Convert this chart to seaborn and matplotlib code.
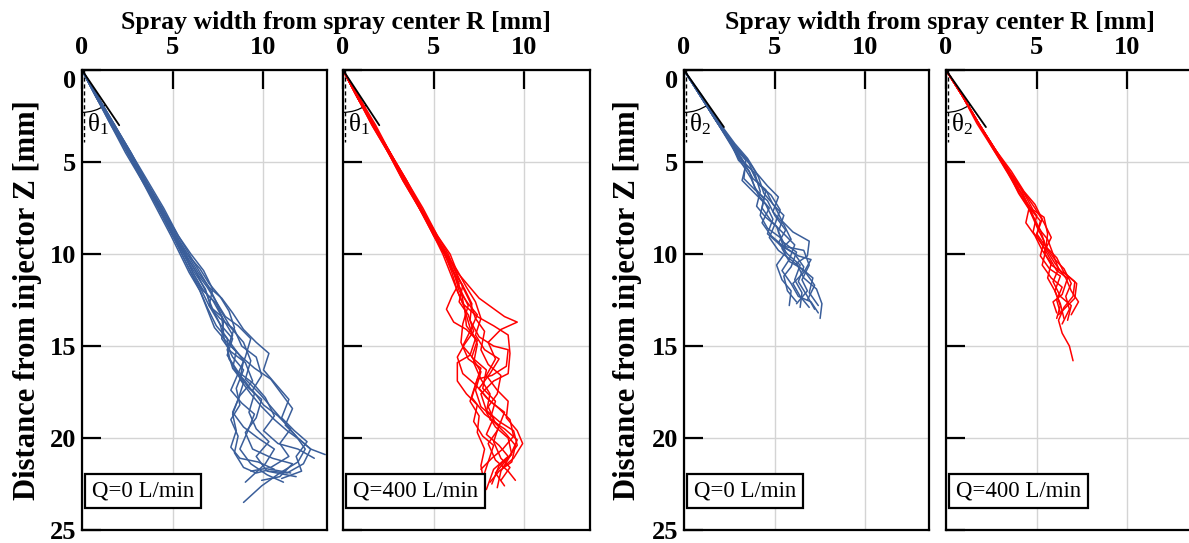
import numpy as np
import pandas as pd
import seaborn as sns
import matplotlib.pyplot as plt
from matplotlib.patches import Arc

# spray edge traces, (R, Z) in mm
theta1_q0 = [
    [(0,0),(0.9,1.5),(1.7,3),(2.6,4.5),(3.4,6),(4.3,7.5),(5.1,9),(5.7,10),(6.3,11),(6.8,12),(7.2,13),(7.6,13.8),(8.3,14.6),(8.0,15.5),(8.6,16.4),(9.4,17.0),(10.1,17.8),(10.6,18.8),(10.0,19.6),(10.8,20.3),(11.9,20.6),(12.8,21.1)],
    [(0,0),(0.8,1.5),(1.6,3),(2.5,4.5),(3.3,6),(4.2,7.5),(5.0,9),(5.5,10),(6.0,11),(6.6,12),(7.0,12.8),(7.6,13.8),(7.9,14.8),(8.3,15.6),(8.9,16.3),(8.5,17.3),(8.7,18.2),(8.2,19.0),(8.6,19.9),(8.4,20.8),(8.9,21.6),(9.6,21.9),(10.4,21.7),(11.5,21.9)],
    [(0,0),(0.9,1.5),(1.8,3),(2.7,4.5),(3.5,6),(4.4,7.5),(5.3,9),(5.9,10),(6.5,11),(7.1,12),(7.6,13),(8.2,14),(8.9,14.8),(9.3,15.8),(9.0,16.8),(9.8,17.6),(10.5,18.4),(11.2,19.2),(11.8,19.9),(12.3,20.6),(11.9,21.3),(10.9,21.9),(9.9,22.6),(8.9,23.5)],
    [(0,0),(0.8,1.5),(1.7,3),(2.5,4.5),(3.4,6),(4.2,7.5),(5.0,9),(5.6,10),(6.1,11),(6.7,12),(7.4,12.7),(7.8,13.6),(7.7,14.6),(8.2,15.3),(9.0,15.9),(9.4,16.9),(8.7,17.7),(8.3,18.6),(8.9,19.4),(9.7,20.0),(10.6,20.6),(10.1,21.4),(9.0,22.4)],
    [(0,0),(0.9,1.5),(1.8,3),(2.6,4.5),(3.5,6),(4.4,7.5),(5.2,9),(5.8,10),(6.4,11),(7.0,11.8),(7.7,12.4),(8.3,13.2),(8.9,14.1),(9.6,14.8),(10.3,15.4),(10.0,16.3),(10.7,17.1),(11.4,17.9),(11.0,18.9),(11.7,19.6),(12.4,20.2),(11.8,21.0),(12.1,21.8),(11.0,22.2)],
    [(0,0),(0.8,1.5),(1.7,3),(2.6,4.5),(3.4,6),(4.3,7.5),(5.1,9),(5.6,10),(6.2,11),(6.8,11.9),(7.1,12.9),(7.7,13.4),(8.3,14.4),(8.0,15.2),(8.3,16.2),(8.9,16.8),(9.5,17.6),(9.2,18.6),(9.6,19.5),(10.3,20.2),(9.6,21.0),(10.2,21.8),(11.8,22.1)],
    [(0,0),(0.9,1.5),(1.8,3),(2.7,4.5),(3.6,6),(4.5,7.5),(5.3,9),(6.0,10),(6.7,10.9),(7.2,11.9),(7.0,12.8),(7.6,13.5),(8.4,14.1),(8.8,15.0),(9.6,15.6),(9.9,16.6),(9.4,17.4),(10.0,18.2),(10.8,18.8),(11.5,19.5),(10.9,20.3),(11.4,21.0),(10.4,21.6),(9.3,21.8)],
    [(0,0),(0.8,1.5),(1.6,3),(2.4,4.5),(3.3,6),(4.1,7.5),(4.9,9),(5.4,10),(5.9,11),(6.5,12),(6.9,12.9),(7.4,13.9),(8.0,14.6),(8.1,15.7),(8.6,16.5),(8.2,17.4),(8.8,18.1),(9.5,18.7),(9.1,19.7),(8.7,20.6),(9.3,21.4),(10.2,22.0),(11.1,22.4)],
    [(0,0),(0.9,1.5),(1.8,3),(2.7,4.5),(3.5,6),(4.4,7.5),(5.2,9),(5.8,10),(6.5,10.8),(7.0,11.6),(7.6,12.3),(8.1,13.1),(8.4,14.0),(8.1,14.9),(8.8,15.6),(9.5,16.2),(10.4,16.8),(11.0,17.6),(11.6,18.4),(11.2,19.3),(11.9,20.0),(12.6,20.6),(13.4,20.9)],
    [(0,0),(0.8,1.5),(1.7,3),(2.5,4.5),(3.4,6),(4.3,7.5),(5.1,9),(5.7,10),(6.3,11),(6.9,11.8),(7.4,12.6),(7.9,13.4),(8.6,13.9),(9.3,14.6),(9.0,15.6),(8.6,16.5),(9.2,17.3),(9.9,17.9),(9.6,18.9),(9.0,19.7),(9.4,20.6),(10.5,21.1),(11.6,21.4),(10.9,22.1),(9.9,22.3)],
    [(0,0),(0.9,1.5),(1.7,3),(2.6,4.5),(3.5,6),(4.3,7.5),(5.1,9),(5.7,10),(6.1,11),(6.6,11.9),(7.2,12.5),(7.7,13.4),(7.8,14.3),(8.3,15.0),(8.9,15.8),(8.7,16.8),(9.3,17.6),(9.9,18.3),(10.6,19.0),(11.3,19.6),(12.0,20.1),(12.6,20.6),(12.2,21.4),(11.3,21.9),(10.4,21.8)],
    [(0,0),(0.8,1.5),(1.7,3),(2.6,4.5),(3.4,6),(4.2,7.5),(5.0,9),(5.5,10),(6.0,11),(6.5,12),(6.9,13),(7.3,14),(7.9,14.7),(8.5,15.3),(8.3,16.2),(8.9,17.0),(8.6,17.9),(8.3,18.7),(8.5,19.6),(8.2,20.5),(8.7,21.1),(9.7,21.3),(10.6,21.7)],
]

theta1_q400 = [
    [(0,0),(0.8,1.5),(1.7,3),(2.6,4.5),(3.4,6),(4.3,7.5),(5.1,9),(5.7,10),(6.1,11),(6.5,12),(6.7,13),(7.0,14),(7.4,14.9),(7.2,15.9),(7.6,16.8),(8.1,17.6),(7.9,18.6),(8.4,19.4),(9.1,20.0),(9.3,20.9),(8.6,21.5),(8.2,22.5)],
    [(0,0),(0.8,1.5),(1.7,3),(2.5,4.5),(3.3,6),(4.2,7.5),(5.0,9),(5.6,10),(6.0,11),(6.3,12),(6.6,12.7),(7.4,13.4),(8.3,13.9),(9.1,14.4),(9.2,15.4),(9.1,16.5),(8.3,16.9),(7.6,17.6),(7.9,18.5),(8.6,19.1),(9.4,19.6),(9.6,20.4),(9.0,21.2),(8.4,21.9),(8.9,22.6)],
    [(0,0),(0.8,1.5),(1.6,3),(2.5,4.5),(3.4,6),(4.2,7.5),(5.1,9),(5.6,10),(6.0,10.8),(6.4,11.6),(6.0,12.3),(5.7,13.0),(6.1,13.7),(6.8,14.1),(7.3,14.6),(7.0,15.5),(6.3,15.9),(6.3,16.9),(6.8,17.6),(7.4,18.2),(7.2,19.1),(7.7,19.9),(8.3,20.4),(8.0,21.3),(7.7,22.2)],
    [(0,0),(0.9,1.5),(1.7,3),(2.6,4.5),(3.5,6),(4.3,7.5),(5.2,9),(5.8,10),(6.2,11),(6.7,11.9),(7.1,12.7),(7.0,13.6),(7.5,14.5),(8.3,15.0),(9.1,15.2),(9.0,16.1),(8.2,16.6),(7.4,16.8),(7.1,17.8),(7.8,18.7),(8.6,19.3),(8.3,20.2),(8.7,21.1),(9.2,21.6),(8.7,22.3)],
    [(0,0),(0.8,1.5),(1.7,3),(2.6,4.5),(3.4,6),(4.3,7.5),(5.0,9),(5.6,10),(6.1,11),(6.5,12),(6.9,12.8),(6.6,13.8),(6.5,14.8),(6.9,15.7),(7.6,16.2),(7.3,17.1),(7.0,18.0),(7.5,18.8),(7.4,19.7),(7.8,20.6),(7.6,21.5),(7.8,22.6)],
    [(0,0),(0.8,1.5),(1.7,3),(2.5,4.5),(3.4,6),(4.3,7.5),(5.1,9),(5.7,10),(6.2,10.9),(6.6,11.8),(7.0,12.6),(7.3,13.5),(7.8,14.2),(7.6,15.2),(8.0,16.0),(8.7,16.6),(8.5,17.6),(8.0,18.3),(8.4,19.2),(9.0,19.8),(9.5,20.4),(9.3,21.3),(8.6,21.8),(8.1,22.4)],
    [(0,0),(0.9,1.5),(1.7,3),(2.6,4.5),(3.5,6),(4.3,7.5),(5.1,9),(5.6,10),(6.1,11),(6.6,11.7),(6.4,12.6),(6.9,13.3),(7.2,14.2),(6.7,14.9),(6.3,15.6),(6.6,16.5),(7.3,17.1),(7.9,17.8),(8.6,18.4),(9.2,19.0),(9.4,19.9),(8.8,20.6),(8.2,21.1),(7.6,21.7)],
    [(0,0),(0.8,1.5),(1.7,3),(2.6,4.5),(3.4,6),(4.2,7.5),(5.1,9),(5.7,10),(6.3,10.9),(6.8,11.8),(7.3,12.6),(7.6,13.5),(7.3,14.4),(7.8,15.2),(8.6,15.7),(8.1,16.5),(7.5,17.3),(8.1,18.0),(8.9,18.6),(8.5,19.6),(8.0,20.3),(8.4,21.2),(9.1,21.8),(9.5,22.3)],
    [(0,0),(0.8,1.5),(1.6,3),(2.5,4.5),(3.3,6),(4.2,7.5),(5.0,9),(5.5,10),(5.9,11),(6.3,12),(6.7,12.9),(6.8,13.9),(7.4,14.7),(7.1,15.6),(7.6,16.4),(7.3,17.4),(7.6,18.3),(8.3,18.9),(7.9,19.8),(8.6,20.4),(9.1,21.0),(8.3,21.7),(7.9,22.8)],
    [(0,0),(0.9,1.5),(1.8,3),(2.6,4.5),(3.5,6),(4.4,7.5),(5.2,9),(5.9,10),(6.3,11),(6.9,11.7),(7.5,12.4),(8.2,12.9),(8.9,13.4),(9.6,13.7),(8.7,14.1),(8.0,14.8),(8.4,15.7),(7.9,16.6),(8.5,17.4),(9.1,18.0),(9.0,18.9),(9.6,19.6),(9.9,20.3),(9.4,21.1),(8.8,21.6)],
    [(0,0),(0.8,1.5),(1.7,3),(2.6,4.5),(3.4,6),(4.3,7.5),(5.1,9),(5.7,10),(6.1,11),(6.4,12),(6.9,12.7),(7.4,13.3),(7.0,14.2),(6.6,15.0),(7.2,15.7),(7.9,16.3),(7.7,17.3),(8.4,18.0),(8.1,19.0),(8.9,19.5),(9.6,20.1),(9.2,21.0),(8.7,21.8),(8.5,22.7)],
]

theta2_q0 = [
    [(0,0),(0.9,1.4),(1.8,2.8),(2.7,4.2),(3.4,5.2),(3.2,6.0),(3.8,6.6),(4.5,7.3),(4.9,8.1),(4.6,8.9),(5.3,9.5),(6.1,10.0),(6.6,10.7),(6.3,11.5),(6.8,12.3),(7.2,13.0)],
    [(0,0),(0.9,1.4),(1.8,2.8),(2.6,4.0),(3.0,4.9),(3.6,5.5),(3.9,6.4),(4.4,7.0),(4.2,7.9),(4.6,8.6),(5.3,9.1),(5.6,9.9),(5.1,10.6),(5.4,11.4),(5.9,12.0),(5.8,12.8)],
    [(0,0),(1.0,1.4),(1.9,2.8),(2.8,4.1),(3.6,5.0),(4.1,5.8),(4.4,6.7),(5.0,7.4),(5.4,8.2),(6.0,8.8),(6.9,9.3),(6.8,10.1),(6.2,10.5),(6.6,11.3),(7.3,11.9),(7.6,12.7),(7.5,13.5)],
    [(0,0),(0.9,1.4),(1.8,2.8),(2.7,4.1),(3.3,5.0),(3.9,5.6),(4.2,6.6),(4.0,7.4),(4.5,8.0),(5.1,8.5),(5.4,9.3),(6.2,9.9),(5.9,10.7),(5.5,11.2),(5.7,12.0),(6.2,12.6)],
    [(0,0),(0.9,1.4),(1.9,2.8),(2.8,4.0),(3.5,4.8),(4.0,5.6),(4.6,6.3),(5.2,6.9),(4.9,7.7),(5.5,8.4),(5.9,9.2),(5.4,9.7),(5.8,10.4),(6.5,10.8),(7.1,11.3),(6.9,12.1),(7.4,12.8)],
    [(0,0),(0.9,1.4),(1.8,2.8),(2.6,4.1),(3.2,5.1),(3.7,5.9),(4.1,6.8),(4.7,7.5),(4.3,8.3),(4.8,9.0),(5.5,9.6),(6.3,10.1),(7.0,10.3),(6.6,11.0),(6.0,11.6),(6.4,12.3),(6.9,12.9)],
    [(0,0),(0.9,1.4),(1.8,2.8),(2.7,4.1),(3.4,4.9),(3.3,5.9),(3.9,6.5),(4.6,7.1),(5.0,7.9),(5.6,8.7),(5.2,9.4),(5.7,10.0),(6.4,10.6),(6.1,11.4),(6.5,12.1),(6.4,12.9)],
    [(0,0),(0.9,1.4),(1.8,2.8),(2.7,4.0),(3.6,5.1),(4.0,6.0),(4.5,6.6),(4.3,7.5),(4.8,8.2),(5.4,8.8),(6.1,9.5),(5.8,10.3),(5.4,10.9),(5.9,11.6),(6.3,12.3),(7.0,12.6),(7.4,13.2)],
    [(0,0),(0.9,1.4),(1.8,2.8),(2.7,4.1),(3.3,5.0),(3.8,5.9),(4.5,6.5),(4.9,7.3),(5.5,7.9),(5.2,8.8),(5.6,9.6),(6.6,9.8),(6.9,10.6),(6.5,11.4),(6.8,12.0),(6.2,12.7)],
    [(0,0),(0.9,1.4),(1.8,2.8),(2.6,4.0),(3.1,4.9),(3.7,5.4),(4.1,6.2),(4.8,6.8),(5.3,7.6),(5.0,8.4),(4.7,9.1),(5.2,9.8),(6.0,10.4),(6.7,11.0),(7.2,11.7),(6.8,12.5)],
]

theta2_q400 = [
    [(0,0),(0.9,1.4),(1.8,2.9),(2.7,4.3),(3.5,5.6),(4.2,6.8),(4.7,7.8),(5.2,8.7),(5.5,9.6),(6.1,10.2),(6.5,11.0),(7.1,11.5),(7.0,12.3),(6.5,12.9),(6.2,13.6),(6.4,14.3),(6.8,15.0),(7.0,15.8)],
    [(0,0),(0.9,1.4),(1.8,2.9),(2.6,4.2),(3.3,5.4),(4.0,6.5),(4.6,7.4),(4.4,8.3),(4.9,9.0),(5.3,9.8),(5.8,10.5),(5.6,11.3),(6.0,12.0),(6.3,12.8),(6.1,13.5)],
    [(0,0),(0.9,1.4),(1.8,2.9),(2.7,4.3),(3.6,5.5),(4.3,6.6),(4.9,7.3),(5.3,8.1),(5.0,8.9),(5.5,9.6),(6.0,10.3),(6.5,10.8),(6.9,11.6),(6.6,12.3),(6.8,13.0),(6.4,13.8)],
    [(0,0),(0.9,1.4),(1.7,2.9),(2.6,4.3),(3.4,5.5),(4.0,6.7),(4.6,7.6),(5.0,8.5),(5.4,9.3),(5.2,10.1),(5.7,10.8),(6.3,11.2),(6.0,12.0),(6.3,12.7),(6.5,13.5)],
    [(0,0),(0.9,1.4),(1.8,2.9),(2.7,4.3),(3.5,5.5),(4.2,6.5),(4.9,7.5),(5.4,8.3),(5.8,9.1),(5.4,9.9),(5.8,10.6),(6.6,11.1),(7.2,11.6),(7.1,12.4),(6.6,12.9),(6.2,13.3)],
    [(0,0),(0.9,1.4),(1.8,2.9),(2.6,4.3),(3.4,5.6),(4.1,6.8),(4.7,7.7),(5.1,8.6),(5.6,9.2),(5.9,10.0),(6.2,10.8),(5.9,11.5),(6.3,12.3),(6.9,12.8),(6.7,13.6)],
    [(0,0),(0.9,1.4),(1.8,2.9),(2.7,4.3),(3.4,5.4),(4.1,6.4),(4.5,7.3),(5.0,7.9),(4.8,8.8),(5.3,9.5),(5.7,10.2),(6.1,10.9),(6.7,11.3),(6.4,12.2),(5.9,12.6),(6.1,13.2)],
    [(0,0),(0.9,1.4),(1.8,2.9),(2.7,4.3),(3.5,5.6),(4.3,6.7),(4.8,7.6),(5.4,8.0),(5.6,8.9),(5.5,9.7),(6.0,10.5),(6.6,11.3),(6.9,12.0),(7.3,12.6),(6.9,13.3)],
    [(0,0),(0.9,1.4),(1.8,2.9),(2.6,4.2),(3.4,5.5),(4.1,6.6),(4.6,7.5),(5.2,8.2),(5.0,9.0),(5.5,9.8),(5.3,10.6),(5.8,11.3),(6.4,11.8),(6.1,12.5),(6.3,13.2)],
]

flow_labels = ["Q=0 L/min", "Q=400 L/min", "Q=0 L/min", "Q=400 L/min"]
angle_labels = ["θ$_1$", "θ$_1$", "θ$_2$", "θ$_2$"]
angle_tips = [(2.05, 3.0), (2.0, 3.0), (2.2, 3.1), (2.2, 3.1)]
line_colors = ["#3a5e9a", "#ff0000", "#3a5e9a", "#ff0000"]
all_traces = [theta1_q0, theta1_q400, theta2_q0, theta2_q400]


def to_frame(traces):
    rows = []
    for k, tr in enumerate(traces):
        for i, (r, z) in enumerate(tr):
            rows.append((k, i, r, z))
    return pd.DataFrame(rows, columns=["trace", "step", "r", "z"])


sns.set_style("white")
plt.rcParams["font.family"] = ["Liberation Serif", "DejaVu Serif"]
plt.rcParams["mathtext.fontset"] = "custom"
plt.rcParams["mathtext.rm"] = "Liberation Serif"
plt.rcParams["mathtext.default"] = "regular"
plt.rcParams["text.color"] = "black"

fig = plt.figure(figsize=(11.89, 5.43), dpi=100)
bottom, height = 0.0239, 0.8471
lefts = [82 / 1189, 343 / 1189, 684 / 1189, 946 / 1189]
widths = [245 / 1189, 247 / 1189, 245 / 1189, 250 / 1189]

for n in range(4):
    ax = fig.add_axes([lefts[n], bottom, widths[n], height])
    df = to_frame(all_traces[n])
    xmax = 13.5 * widths[n] / widths[0]
    ax.set_xlim(0, xmax)
    ax.set_ylim(25, 0)
    ax.grid(True, color="#d4d4d4", lw=1.0)
    ax.set_axisbelow(True)
    sns.lineplot(data=df, x="r", y="z", units="trace", estimator=None,
                 sort=False, color=line_colors[n], lw=1.1, ax=ax, legend=False)

    # angle marker
    tx, tz = angle_tips[n]
    ax.plot([0.12, 0.12], [0, 3.9], ls=(0, (3, 2)), color="black", lw=1.0)
    ax.plot([0, tx], [0, tz], color="black", lw=1.3)
    ang = np.degrees(np.arctan2(tz, tx))
    ax.add_patch(Arc((0, 0), 4.6, 4.6, theta1=ang, theta2=90,
                     color="black", lw=0.9))
    ax.text(0.3, 2.95, angle_labels[n], fontsize=18, va="center", ha="left")

    ax.text(0.039, 0.062, flow_labels[n], transform=ax.transAxes, fontsize=16.5,
            ha="left", va="bottom",
            bbox=dict(boxstyle="square,pad=0.3", fc="white", ec="black", lw=1.6))

    ax.set_xticks([0, 5, 10])
    ax.set_yticks([0, 5, 10, 15, 20, 25])
    ax.xaxis.tick_top()
    ax.tick_params(axis="x", direction="in", length=14, width=1.6,
                   labelsize=19, pad=8, colors="black", top=True, bottom=False)
    ax.tick_params(axis="y", direction="in", length=14, width=1.6,
                   labelsize=19, pad=4, colors="black", left=True, right=False)
    for lab in ax.get_xticklabels() + ax.get_yticklabels():
        lab.set_fontweight("bold")
    ax.get_yticklabels()[0].set_verticalalignment("top")
    if n in (1, 3):
        ax.set_yticklabels([])
    ax.set_xlabel("")
    ax.set_ylabel("")
    for sp in ax.spines.values():
        sp.set_visible(True)
        sp.set_linewidth(1.6)
        sp.set_color("black")

for cx in (336 / 1189, 940 / 1189):
    fig.text(cx, 1 - 22 / 543, "Spray width from spray center R [mm]",
             fontsize=18.5, fontweight="bold", ha="center", va="center")
for lx in (28 / 1189, 628 / 1189):
    fig.text(lx, 1 - 300 / 543, "Distance from injector Z [mm]", rotation=90,
             fontsize=22, fontweight="bold", ha="center", va="center")

fig.savefig("out.png", dpi=100)
